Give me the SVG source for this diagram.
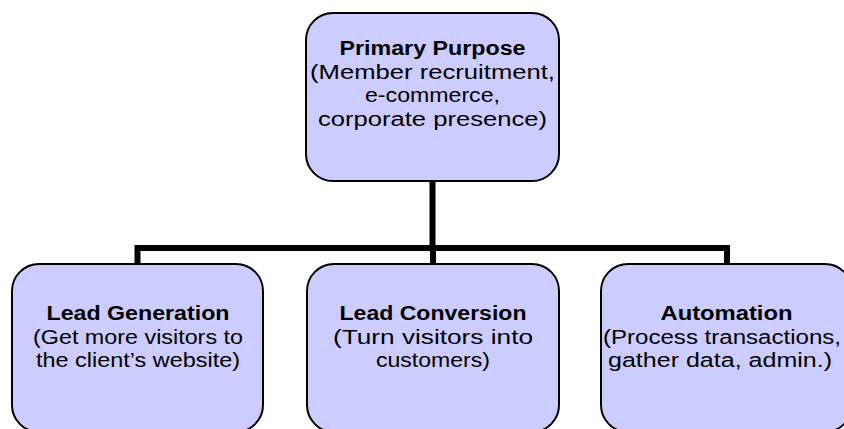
<svg xmlns="http://www.w3.org/2000/svg" width="844" height="429" viewBox="0 0 844 429">
  <style>
    .box { fill: #CCCCFF; stroke: #000000; stroke-width: 2; }
    .link { fill: none; stroke: #000000; stroke-width: 6; stroke-linecap: butt; stroke-linejoin: miter; }
    text { font-family: "Liberation Sans", Arial, sans-serif; font-size: 20px; fill: #000000; text-anchor: middle; }
    .title { font-weight: bold; }
  </style>
  <rect width="844" height="429" fill="#FFFFFF"/>

  <!-- connectors: trunk from the top node, crossbar, drops to the three children -->
  <g id="connectors">
    <path class="link" d="M432.5,181 V248"/>
    <path class="link" d="M137.5,264 V248 H727 V264"/>
    <path class="link" d="M433,248 V264"/>
  </g>

  <g id="primary-purpose">
    <rect class="box" x="306" y="13" width="253" height="168" rx="27" ry="27"/>
    <text class="title" x="432.5" y="55" textLength="186" lengthAdjust="spacingAndGlyphs">Primary Purpose</text>
    <text x="432.5" y="78.5" textLength="245" lengthAdjust="spacingAndGlyphs">(Member recruitment,</text>
    <text x="432.5" y="102" textLength="135" lengthAdjust="spacingAndGlyphs">e-commerce,</text>
    <text x="432.5" y="125.5" textLength="229" lengthAdjust="spacingAndGlyphs">corporate presence)</text>
  </g>

  <g id="lead-generation">
    <rect class="box" x="12" y="264" width="251" height="168" rx="27" ry="27"/>
    <text class="title" x="138" y="320" textLength="183" lengthAdjust="spacingAndGlyphs">Lead Generation</text>
    <text x="138" y="343.5" textLength="210" lengthAdjust="spacingAndGlyphs">(Get more visitors to</text>
    <text x="138" y="367" textLength="204" lengthAdjust="spacingAndGlyphs">the client’s website)</text>
  </g>

  <g id="lead-conversion">
    <rect class="box" x="307" y="264" width="252" height="168" rx="27" ry="27"/>
    <text class="title" x="433" y="320" textLength="187" lengthAdjust="spacingAndGlyphs">Lead Conversion</text>
    <text x="433" y="343.5" textLength="200" lengthAdjust="spacingAndGlyphs">(Turn visitors into</text>
    <text x="433" y="367" textLength="114" lengthAdjust="spacingAndGlyphs">customers)</text>
  </g>

  <g id="automation">
    <rect class="box" x="601" y="264" width="251" height="168" rx="27" ry="27"/>
    <text class="title" x="726.5" y="320" textLength="132" lengthAdjust="spacingAndGlyphs">Automation</text>
    <text x="722" y="343.5" textLength="238" lengthAdjust="spacingAndGlyphs">(Process transactions,</text>
    <text x="720" y="367" textLength="224" lengthAdjust="spacingAndGlyphs">gather data, admin.)</text>
  </g>
</svg>
